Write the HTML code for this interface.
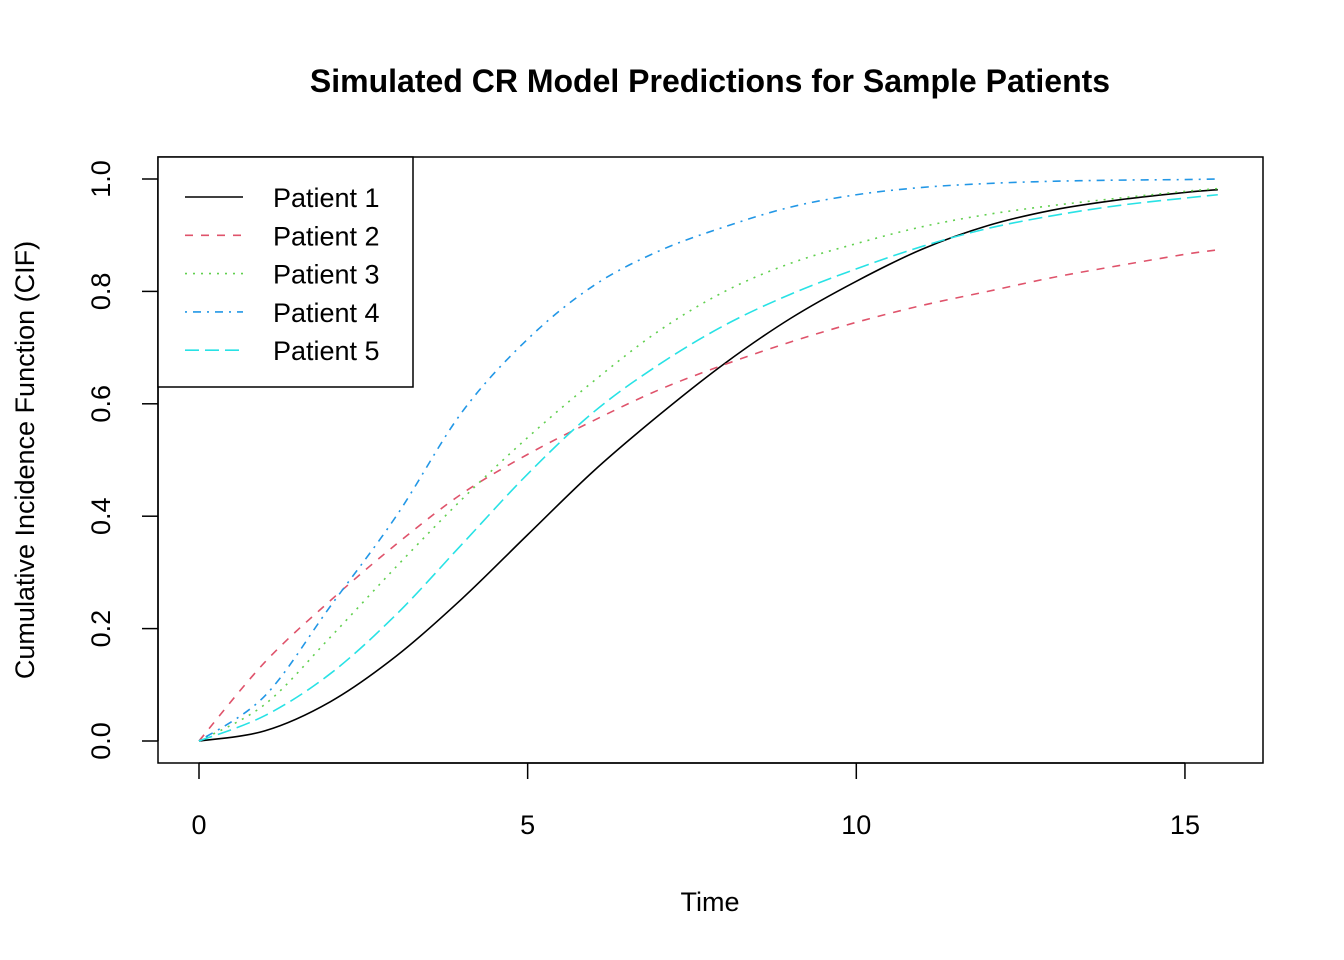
<!DOCTYPE html>
<html><head><meta charset="utf-8"><style>
html,body{margin:0;padding:0;background:#fff}
svg{display:block;font-family:"Liberation Sans",Arial,sans-serif}
</style></head><body>
<svg id="chart" width="1344" height="960" viewBox="0 0 1344 960">
<text x="710" y="92" text-anchor="middle" font-size="32" font-weight="bold">Simulated CR Model Predictions for Sample Patients</text>
<rect x="158" y="157" width="1105" height="606" fill="none" stroke="#000" stroke-width="1.5"/>
<g id="xaxis"></g>
<g id="yaxis"></g>
<text x="710" y="911" text-anchor="middle" font-size="27">Time</text>
<text transform="translate(34,460) rotate(-90)" text-anchor="middle" font-size="27">Cumulative Incidence Function (CIF)</text>
<g id="series"></g>
<g id="legend">
<rect x="158" y="157" width="255" height="230" fill="#fff" stroke="#000" stroke-width="1.5"/>
</g>
</svg>
<script>
const times = [0,1,2,3,4,5,6,7,8,9,10,11,12,13,14,15,15.5];
const patient1 = [0,0.018,0.07,0.151,0.253,0.367,0.48,0.58,0.672,0.752,0.818,0.875,0.917,0.945,0.963,0.976,0.981];
const patient2 = [0,0.14,0.25,0.35,0.44,0.51,0.57,0.625,0.67,0.71,0.745,0.775,0.80,0.825,0.846,0.866,0.874];
const patient3 = [0,0.065,0.185,0.31,0.43,0.54,0.64,0.73,0.80,0.85,0.885,0.915,0.937,0.953,0.966,0.978,0.983];
const patient4 = [0,0.08,0.24,0.40,0.585,0.715,0.81,0.872,0.915,0.95,0.972,0.985,0.992,0.996,0.998,0.999,1.0];
const patient5 = [0,0.045,0.12,0.225,0.35,0.475,0.585,0.67,0.74,0.795,0.84,0.88,0.912,0.935,0.953,0.966,0.972];
const seriesNames = ["Patient 1","Patient 2","Patient 3","Patient 4","Patient 5"];
const seriesColors = ["#000000","#DF536B","#61D04F","#2297E6","#28E2E5"];
const seriesDash = ["","8,8","2,6","2,6,8,6","14,6"];
const xTicks = [0,5,10,15];
const yTicks = [0,0.2,0.4,0.6,0.8,1.0];
const yTickLabels = ["0.0","0.2","0.4","0.6","0.8","1.0"];

const NS="http://www.w3.org/2000/svg";
const sx = t => 199 + t*65.73;
const sy = v => 741 - v*562;
function mk(tag, attrs, parent){const e=document.createElementNS(NS,tag);for(const k in attrs)e.setAttribute(k,attrs[k]);parent.appendChild(e);return e;}

const xg=document.getElementById('xaxis');
mk('line',{x1:sx(xTicks[0]),x2:sx(xTicks[xTicks.length-1]),y1:763,y2:763,stroke:'#000','stroke-width':1.5},xg);
xTicks.forEach(t=>{
  const l=mk('line',{x1:sx(t),x2:sx(t),y1:763,y2:779,stroke:'#000','stroke-width':1.5},xg);
  
  
  const tx=mk('text',{x:sx(t),y:834,'text-anchor':'middle','font-size':27},xg);
  tx.textContent=t;
  
  
});
const yg=document.getElementById('yaxis');
mk('line',{x1:158,x2:158,y1:sy(yTicks[0]),y2:sy(yTicks[yTicks.length-1]),stroke:'#000','stroke-width':1.5},yg);
yTicks.forEach((v,i)=>{
  const l=mk('line',{x1:142,x2:158,y1:sy(v),y2:sy(v),stroke:'#000','stroke-width':1.5},yg);
  
  
  const tx=mk('text',{transform:`translate(110,${sy(v)}) rotate(-90)`,'text-anchor':'middle','font-size':27},yg);
  tx.textContent=yTickLabels[i];
  
  
});

function smoothPath(xs,ys){
  const p=xs.map((x,i)=>[sx(x),sy(ys[i])]);
  let d=`M${p[0][0]},${p[0][1]}`;
  for(let i=0;i<p.length-1;i++){
    const p0=p[Math.max(0,i-1)],p1=p[i],p2=p[i+1],p3=p[Math.min(p.length-1,i+2)];
    const c1=[p1[0]+(p2[0]-p0[0])/6,p1[1]+(p2[1]-p0[1])/6];
    const c2=[p2[0]-(p3[0]-p1[0])/6,p2[1]-(p3[1]-p1[1])/6];
    d+=` C${c1[0]},${c1[1]} ${c2[0]},${c2[1]} ${p2[0]},${p2[1]}`;
  }
  return d;
}
const sg=document.getElementById('series');
[patient1,patient2,patient3,patient4,patient5].forEach((vals,i)=>{
  const path=mk('path',{d:smoothPath(times,vals),fill:'none',stroke:seriesColors[i],'stroke-width':1.6,'stroke-dasharray':seriesDash[i]},sg);
  
  
});
const lg=document.getElementById('legend');
seriesNames.forEach((n,i)=>{
  const y=197+i*38.3;
  const l=mk('line',{x1:185,x2:243,y1:y,y2:y,stroke:seriesColors[i],'stroke-width':1.6,'stroke-dasharray':seriesDash[i]},lg);
  
  
  const t=mk('text',{x:273,y:y+10,'font-size':27},lg);
  t.textContent=n;
  
  
});
</script>
</body></html>
